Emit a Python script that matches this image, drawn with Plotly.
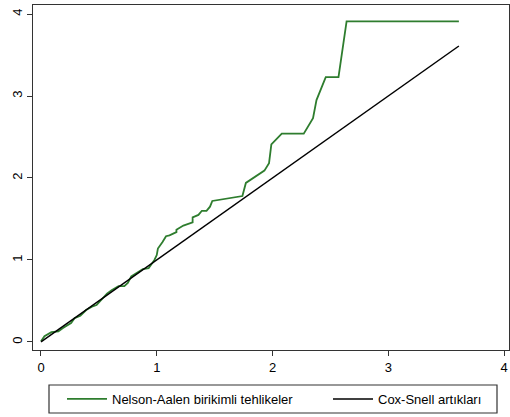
import plotly.graph_objects as go

# Nelson-Aalen cumulative hazard
na_x = [0.0, 0.03, 0.09, 0.15, 0.19, 0.26, 0.29, 0.34, 0.39, 0.44, 0.48, 0.52, 0.57, 0.61,
        0.67, 0.72, 0.75, 0.78, 0.88, 0.93, 0.95, 0.98, 1.00, 1.01, 1.05, 1.08, 1.11, 1.17,
        1.17, 1.23, 1.31, 1.31, 1.36, 1.39, 1.43, 1.46, 1.48, 1.74, 1.77, 1.93, 1.97, 1.99,
        2.08, 2.27, 2.35, 2.38, 2.46, 2.57, 2.64, 3.61]
na_y = [0.01, 0.07, 0.12, 0.13, 0.17, 0.23, 0.29, 0.32, 0.39, 0.43, 0.45, 0.51, 0.59, 0.63,
        0.68, 0.68, 0.72, 0.80, 0.89, 0.90, 0.94, 1.00, 1.06, 1.14, 1.22, 1.29, 1.30, 1.34,
        1.37, 1.42, 1.46, 1.52, 1.55, 1.60, 1.60, 1.65, 1.72, 1.78, 1.94, 2.09, 2.18, 2.41,
        2.54, 2.54, 2.73, 2.95, 3.23, 3.23, 3.91, 3.91]

# Cox-Snell residuals reference line
cs_x = [0.0, 3.61]
cs_y = [0.0, 3.61]

tick_vals = [0, 1, 2, 3, 4]
tick_text = ["0", "1", "2", "3", "4"]

FONT = "Liberation Sans, Arial"

fig = go.Figure()
fig.add_trace(go.Scatter(x=na_x, y=na_y, mode="lines",
                         line=dict(color="#2e7d2e", width=1.8),
                         name="Nelson-Aalen birikimli tehlikeler", legend="legend"))
fig.add_trace(go.Scatter(x=cs_x, y=cs_y, mode="lines",
                         line=dict(color="#000000", width=1.5),
                         name="Cox-Snell artıkları", legend="legend2"))

axis_common = dict(showgrid=False, zeroline=False, showline=True, linecolor="#333333",
                   linewidth=1, mirror=True, ticks="outside", ticklen=5, tickwidth=1,
                   tickcolor="#333333", tickvals=tick_vals, ticktext=tick_text,
                   tickfont=dict(family=FONT, size=13, color="#000"))

# plot area: x 33..509 px, y 5..350 px
def px_x(p):
    return (p - 33) / 476.0

def px_y(p):
    return (350 - p) / 345.0

leg_common = dict(orientation="h", yanchor="middle", y=px_y(399), xanchor="left",
                  bgcolor="rgba(0,0,0,0)", borderwidth=0,
                  font=dict(family=FONT, size=13, color="#000"), itemwidth=40)

fig.update_layout(
    width=510, height=417,
    margin=dict(l=33, r=1, t=5, b=67),
    paper_bgcolor="white", plot_bgcolor="white",
    xaxis=dict(range=[-0.069, 4.043], **axis_common),
    yaxis=dict(range=[-0.098, 4.11], tickangle=-90, **axis_common),
    legend=dict(x=px_x(62), **leg_common),
    legend2=dict(x=px_x(328), **leg_common),
    showlegend=True,
    shapes=[dict(type="rect", xref="paper", yref="paper",
                 x0=px_x(49), x1=px_x(497), y0=px_y(413), y1=px_y(385),
                 line=dict(color="#333333", width=1.2), fillcolor="rgba(0,0,0,0)")],
)

fig.write_html("out.html")
